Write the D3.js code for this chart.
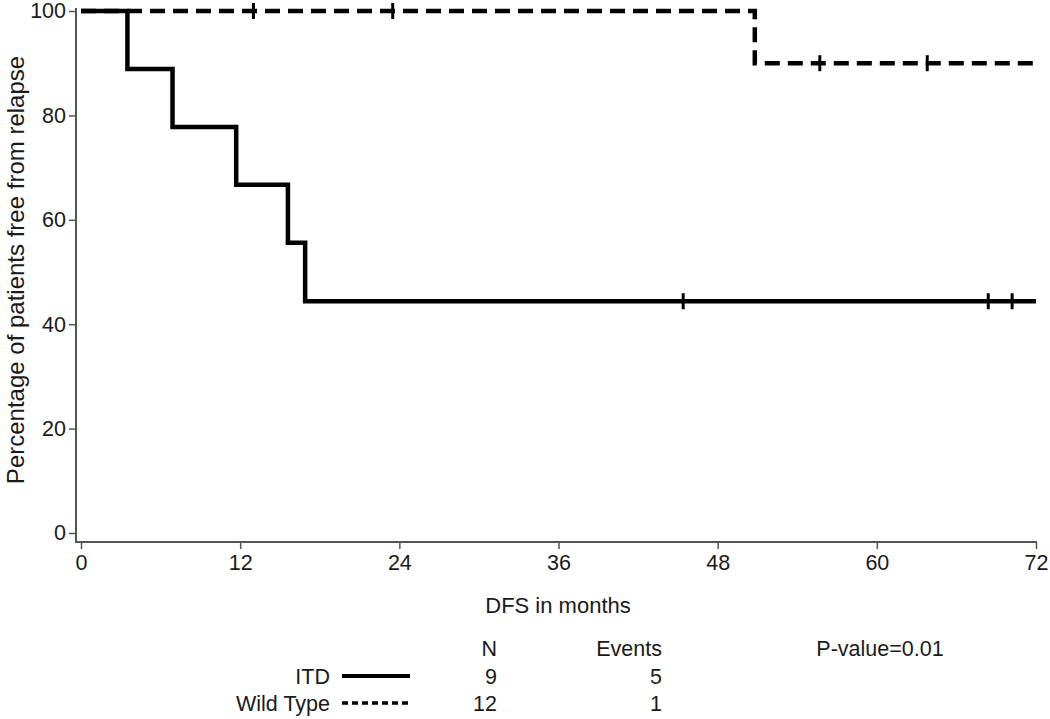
<!DOCTYPE html>
<html><head><meta charset="utf-8">
<script src="https://cdn.jsdelivr.net/npm/d3@7"></script>
<style>body{margin:0;background:#fff}text{font-family:"Liberation Sans",Arial,sans-serif;fill:#1a1a1a}</style>
</head><body><svg id="c" width="1050" height="719"></svg>
<script>
// Data
const itdTimes = [0, 3.5, 6.9, 11.7, 15.6, 16.9, 72];
const itdSurv  = [100, 88.9, 77.8, 66.7, 55.6, 44.4, 44.4];
const itdCensor = [45.4, 68.4, 70.2];
const wtTimes = [0, 50.8, 72];
const wtSurv  = [100, 90, 90];
const wtCensor = [13.0, 23.5, 55.7, 63.8];
const xTicks = [0, 12, 24, 36, 48, 60, 72];
const yTicks = [0, 20, 40, 60, 80, 100];
const groups = ["ITD", "Wild Type"];
const nVals = [9, 12];
const events = [5, 1];
const pValue = "P-value=0.01";

const svg = d3.select("#c");
const x = d3.scaleLinear().domain([0, 72]).range([81, 1036]);
const y = d3.scaleLinear().domain([0, 100]).range([533, 11]);
const axisColor = "#555";
const fs = "21.5px";

// y axis
const yAxis = svg.append("g").attr("transform", "translate(76,0)")
  .call(d3.axisLeft(y).tickValues(yTicks).tickSize(7).tickPadding(3));
yAxis.select(".domain").remove();
svg.append("line").attr("x1",76).attr("x2",76).attr("y1",8).attr("y2",543)
  .attr("stroke",axisColor).attr("stroke-width",2);
// x axis
const xAxis = svg.append("g").attr("transform", "translate(0,542)")
  .call(d3.axisBottom(x).tickValues(xTicks).tickSize(7).tickPadding(6));
xAxis.select(".domain").remove();
svg.append("line").attr("x1",75).attr("x2",1037).attr("y1",542).attr("y2",542)
  .attr("stroke",axisColor).attr("stroke-width",2);
svg.selectAll(".tick line").attr("stroke",axisColor).attr("stroke-width",1.5);
svg.selectAll(".tick text").style("font-size",fs).attr("fill","#1a1a1a");

// titles
svg.append("text").attr("x",558).attr("y",613).attr("text-anchor","middle")
  .style("font-size","22px").text("DFS in months");
svg.append("text").attr("transform","translate(24,270) rotate(-90)").attr("text-anchor","middle")
  .style("font-size","24px").text("Percentage of patients free from relapse");

function stepPts(t, s){
  const pts=[];
  for(let i=0;i<t.length;i++){
    if(i>0) pts.push([t[i], s[i-1]]);
    pts.push([t[i], s[i]]);
  }
  return pts;
}
const line = d3.line().x(d=>x(d[0])).y(d=>y(d[1]));
svg.append("path").attr("d", line(stepPts(itdTimes, itdSurv)))
  .attr("fill","none").attr("stroke","#000").attr("stroke-width",4.5);
svg.append("path").attr("d", line(stepPts(wtTimes, wtSurv)))
  .attr("fill","none").attr("stroke","#000").attr("stroke-width",4.5)
  .attr("stroke-dasharray","15,8");

function survAt(t, times, surv){
  let v = surv[0];
  for(let i=0;i<times.length;i++) if(times[i] <= t) v = surv[i];
  return v;
}
svg.selectAll(".ci").data(itdCensor).join("line")
  .attr("x1",d=>x(d)).attr("x2",d=>x(d))
  .attr("y1",d=>y(survAt(d,itdTimes,itdSurv))-8).attr("y2",d=>y(survAt(d,itdTimes,itdSurv))+8)
  .attr("stroke","#000").attr("stroke-width",3);
svg.selectAll(".cw").data(wtCensor).join("line")
  .attr("x1",d=>x(d)).attr("x2",d=>x(d))
  .attr("y1",d=>y(survAt(d,wtTimes,wtSurv))-8).attr("y2",d=>y(survAt(d,wtTimes,wtSurv))+8)
  .attr("stroke","#000").attr("stroke-width",3);

// legend table
svg.append("text").attr("x",497).attr("y",656).attr("text-anchor","end").style("font-size",fs).text("N");
svg.append("text").attr("x",662).attr("y",656).attr("text-anchor","end").style("font-size",fs).text("Events");
svg.append("text").attr("x",880).attr("y",656).attr("text-anchor","middle").style("font-size",fs).text(pValue);
groups.forEach((g,i)=>{
  const yy = 684 + i*27;
  svg.append("text").attr("x",330).attr("y",yy).attr("text-anchor","end").style("font-size",fs).text(g);
  svg.append("line").attr("x1",342).attr("x2",410).attr("y1",yy-8).attr("y2",yy-8)
    .attr("stroke","#000").attr("stroke-width",i===0?4:3.5)
    .attr("stroke-dasharray", i===0?null:"6,4");
  svg.append("text").attr("x",497).attr("y",yy).attr("text-anchor","end").style("font-size",fs).text(nVals[i]);
  svg.append("text").attr("x",662).attr("y",yy).attr("text-anchor","end").style("font-size",fs).text(events[i]);
});
</script></body></html>
